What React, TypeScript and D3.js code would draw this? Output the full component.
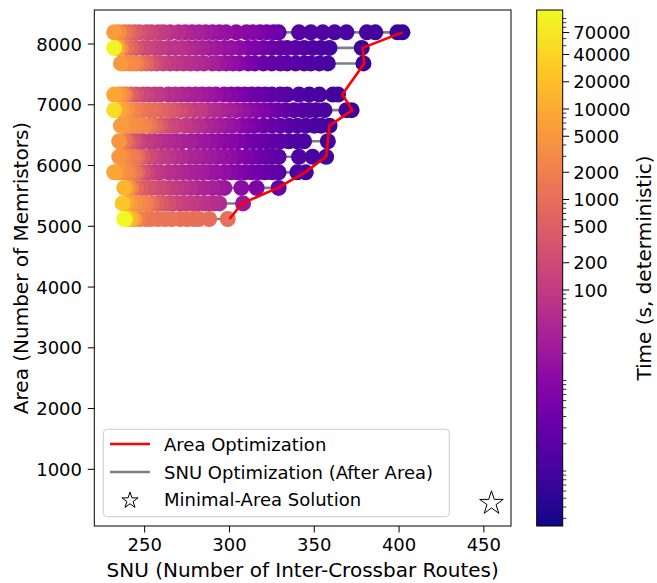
import React from "react";
import * as d3 from "d3";

// ---------- data ----------
const rowAreas = [8192, 7936, 7680, 7168, 6912, 6656, 6400, 6144, 5888, 5632, 5376, 5120];

const snu8192 = [232,235,238,241,244,247,251,254,258,261,265,270,274,278,282,286,290,294,298,304,310,314,318,322,326,329,341,348,355,362,369,381,386,399,402];
const time8192 = [6000,3150,1430,750,440,300,200,155,120,90,70,54,41,32,28,24,19,16.5,14.5,11,9.8,8.6,6.6,5,3.9,3,1.75,1.6,1.5,1.4,1.3,1.05,0.95,0.75,0.7];

const snu7936 = [232,234,236,239,242,245,249,252,256,259,264,268,272,276,280,284,288,292,297,301,306,311,315,320,325,330,334,339,344,349,354,359,378];
const time7936 = [100000,9000,3150,1100,570,340,200,155,120,104,80,70,61,47,36,32,24,21,16.5,14.5,11,7.5,5.8,4.4,3.4,2.6,2.3,2.0,1.5,1.35,1.2,1.05,0.8];

const snu7680 = [236,238,241,243,245,248,251,254,257,261,265,269,273,277,281,285,290,294,298,302,306,311,315,320,325,330,334,339,344,348,353,358,379];
const time7680 = [5300,3600,3150,2750,2100,1100,650,340,200,135,104,80,61,54,47,36,28,21,16.5,12.7,8.6,5.8,3.9,3,2.6,2.3,2.0,1.75,1.5,1.35,1.2,1.05,0.8];

const snu7168 = [232,235,237,239,242,245,249,252,256,259,264,268,272,276,280,284,288,292,297,301,305,309,313,317,321,325,330,334,341,347,353,361,364];
const time7168 = [9000,5300,3150,1430,500,295,175,135,104,80,61,47,41,32,28,24,19,14.5,11,8.6,6.6,5,3.9,3.4,2.6,2.3,2.0,1.75,1.35,1.2,1.05,0.9,0.8];

const snu6912 = [232,235,237,240,243,246,249,253,256,260,264,267,271,275,279,283,287,291,295,300,304,308,312,316,320,324,328,333,338,343,347,351,356,369,372];
const time6912 = [50000,9000,6000,4100,2400,1630,1250,1100,850,650,440,340,230,155,120,90,61,47,36,28,21,16.5,11,8.6,6.6,4.4,3.4,2.6,2.0,1.75,1.5,1.35,1.2,0.9,0.8];

const snu6656 = [236,238,241,243,245,248,250,253,256,259,262,266,269,274,278,282,286,290,294,298,302,307,311,315,320,325,330,335,340,345,350,354,359];
const time6656 = [6000,4700,4100,3600,3150,2750,2400,1430,750,440,260,175,135,90,70,54,41,32,24,19,14.5,9.8,6.6,5,3.9,3,2.3,1.75,1.5,1.35,1.2,1.05,0.8];

const snu6400 = [235,238,240,243,246,249,253,256,260,264,268,272,277,281,285,289,293,297,301,305,310,314,318,322,326,330,335,340,344,358];
const time6400 = [4700,1430,650,340,175,120,90,70,54,47,36,32,28,21,19,14.5,12.7,9.8,8.6,6.6,5,3.9,3.4,2.6,2.3,2.0,1.5,1.35,1.2,0.9];

const snu6144 = [235,237,239,242,244,246,249,253,256,260,264,268,272,277,281,285,289,293,297,301,305,310,314,318,322,325,329,341,349,357];
const time6144 = [4700,3150,2400,1860,1430,850,385,200,135,104,80,61,47,36,32,24,21,16.5,14.5,11,8.6,6.6,5,3.9,3,2.6,2.3,1.35,1.2,0.9];

const snu5888 = [232,234,236,239,241,244,246,249,252,256,259,264,268,272,276,280,284,288,292,297,301,305,309,313,317,321,325,329,340,345];
const time5888 = [9000,5300,4100,3150,2400,1430,650,295,155,104,80,61,47,41,32,28,24,19,16.5,12.7,9.8,7.5,5.8,4.4,3.9,3,2.6,2.0,1.35,1.05];

const snu5632 = [238,240,242,245,248,251,254,258,261,265,269,273,277,281,285,290,294,297,307,316,329];
const time5632 = [15000,5300,2400,850,440,340,260,200,155,120,90,70,54,41,36,28,21,19,11,6.6,3.4];

const snu5376 = [237,239,242,244,246,249,251,254,257,260,264,267,271,274,278,281,285,288,291,294,308];
const time5376 = [25000,9000,5300,4100,3150,2400,1860,960,570,385,260,175,135,120,104,80,70,61,54,47,19];

const snu5120 = [238,239,242,244,247,251,254,258,262,266,271,275,279,282,288,299];
const time5120 = [124000,33000,15000,5300,1860,1430,1430,1250,1250,1250,1100,1100,1100,1100,960,960];

const rowSnu = [snu8192, snu7936, snu7680, snu7168, snu6912, snu6656, snu6400, snu6144, snu5888, snu5632, snu5376, snu5120];
const rowTime = [time8192, time7936, time7680, time7168, time6912, time6656, time6400, time6144, time5888, time5632, time5376, time5120];

// Area optimization path (red line)
const areaOptSnu = [402, 378.5, 379.5, 366.5, 372.5, 359, 358, 357, 344.5, 328.5, 307.5, 300];
const areaOptArea = rowAreas;

// Minimal-area solution
const minimalSnu = 454.5;
const minimalArea = 442;

const xTicks = [250, 300, 350, 400, 450];
const yTicks = [1000, 2000, 3000, 4000, 5000, 6000, 7000, 8000];
const cbTicks = [100, 200, 500, 1000, 2000, 5000, 10000, 20000, 40000, 70000];
const timeDomain = [0.2467, 124200];

const legendLabels = ["Area Optimization", "SNU Optimization (After Area)", "Minimal-Area Solution"];

// ---------- layout ----------
const W = 657, H = 583;
const L = 94.3, R = 511, T = 10, B = 526;
const CBX0 = 536.7, CBX1 = 562.7;
const FONT = "DejaVu Sans";

function starPath(cx: number, cy: number, r: number) {
  const pts: string[] = [];
  for (let i = 0; i < 10; i++) {
    const rr = i % 2 === 0 ? r : r * 0.381966;
    const a = -Math.PI / 2 + (i * Math.PI) / 5;
    pts.push(`${(cx + rr * Math.cos(a)).toFixed(2)},${(cy + rr * Math.sin(a)).toFixed(2)}`);
  }
  return "M" + pts.join("L") + "Z";
}

export default function App() {
  const x = d3.scaleLinear().domain([220.3, 466]).range([L, R]);
  const y = d3.scaleLinear().domain([67, 8560]).range([B, T]);
  const norm = d3.scaleLog().domain(timeDomain).range([0, 1]).clamp(true);
  const color = (t: number) => d3.interpolatePlasma(norm(t));
  const cbY = d3.scaleLog().domain(timeDomain).range([B, T]);

  const line = d3.line<[number, number]>().x((d) => x(d[0])).y((d) => y(d[1]));

  const grayPaths = rowSnu.map((s, i) => line(s.map((v) => [v, rowAreas[i]] as [number, number])) || "");
  const redPath = line(areaOptSnu.map((v, i) => [v, areaOptArea[i]] as [number, number])) || "";

  const circles: JSX.Element[] = [];
  rowSnu.forEach((s, i) => {
    for (let j = s.length - 1; j >= 0; j--) {
      circles.push(
        <circle key={`c${i}-${j}`} cx={x(s[j])} cy={y(rowAreas[i])} r={8} fill={color(rowTime[i][j])} />
      );
    }
  });

  // colorbar
  const stops = d3.range(0, 101).map((k) => (
    <stop key={k} offset={`${k}%`} stopColor={d3.interpolatePlasma(k / 100)} />
  ));
  const minorTicks: number[] = [];
  for (let e = -1; e <= 5; e++) {
    for (let k = 1; k <= 9; k++) {
      const v = k * Math.pow(10, e);
      if (v >= timeDomain[0] && v <= timeDomain[1] && !cbTicks.includes(v)) minorTicks.push(v);
    }
  }

  const legendY = [444, 472, 499.5];

  return (
    <svg width={W} height={H} style={{ position: "absolute", left: 0, top: 0, background: "#fff" }} fontFamily={FONT}>
      <defs>
        <linearGradient id="cbgrad" x1="0" y1="1" x2="0" y2="0">
          {stops}
        </linearGradient>
      </defs>
      <rect x={0} y={0} width={W} height={H} fill="#fff" />

      {/* gray SNU optimization lines */}
      {grayPaths.map((d, i) => (
        <path key={`g${i}`} d={d} fill="none" stroke="#808080" strokeWidth={2.6} />
      ))}
      {circles}
      {/* red area optimization */}
      <path d={redPath} fill="none" stroke="#ff0000" strokeWidth={2.6} strokeLinejoin="round" />
      {/* minimal area star */}
      <path d={starPath(x(minimalSnu), y(minimalArea), 12.4)} fill="#fff" stroke="#000" strokeWidth={1} />

      {/* frame */}
      <rect x={L} y={T} width={R - L} height={B - T} fill="none" stroke="#000" strokeWidth={1} />

      {/* x axis */}
      {xTicks.map((t) => (
        <g key={`x${t}`}>
          <line x1={x(t)} x2={x(t)} y1={B} y2={B + 6.5} stroke="#000" strokeWidth={1} />
          <text x={x(t)} y={551} fontSize={18} textAnchor="middle" fill="#000">{t}</text>
        </g>
      ))}
      <text x={(L + R) / 2} y={576.7} fontSize={20} textAnchor="middle" fill="#000">SNU (Number of Inter-Crossbar Routes)</text>

      {/* y axis */}
      {yTicks.map((t) => (
        <g key={`y${t}`}>
          <line x1={L - 6.5} x2={L} y1={y(t)} y2={y(t)} stroke="#000" strokeWidth={1} />
          <text x={82} y={y(t) + 6.5} fontSize={18} textAnchor="end" fill="#000">{t}</text>
        </g>
      ))}
      <text transform={`translate(28,${(T + B) / 2}) rotate(-90)`} fontSize={20} textAnchor="middle" fill="#000">Area (Number of Memristors)</text>

      {/* legend */}
      <rect x={103.3} y={429.3} width={346} height={87.4} rx={4} fill="#fff" fillOpacity={0.8} stroke="#cccccc" strokeWidth={1} />
      <line x1={110} x2={150} y1={legendY[0]} y2={legendY[0]} stroke="#ff0000" strokeWidth={2.6} />
      <line x1={110} x2={150} y1={legendY[1]} y2={legendY[1]} stroke="#808080" strokeWidth={2.6} />
      <path d={starPath(130, legendY[2] + 1, 8.5)} fill="#fff" stroke="#000" strokeWidth={1} />
      {legendLabels.map((lab, i) => (
        <text key={lab} x={164} y={legendY[i] + 6.7} fontSize={18} fill="#000">{lab}</text>
      ))}

      {/* colorbar */}
      <rect x={CBX0} y={T} width={CBX1 - CBX0} height={B - T} fill="url(#cbgrad)" />
      <rect x={CBX0} y={T} width={CBX1 - CBX0} height={B - T} fill="none" stroke="#000" strokeWidth={1} />
      {minorTicks.map((v) => (
        <line key={`m${v}`} x1={CBX1} x2={CBX1 + 3.6} y1={cbY(v)} y2={cbY(v)} stroke="#000" strokeWidth={0.8} />
      ))}
      {cbTicks.map((v) => (
        <g key={`cb${v}`}>
          <line x1={CBX1} x2={CBX1 + 6.5} y1={cbY(v)} y2={cbY(v)} stroke="#000" strokeWidth={1} />
          <text x={573.3} y={cbY(v) + 6.5} fontSize={18} fill="#000">{v}</text>
        </g>
      ))}
      <text transform={`translate(651,${(T + B) / 2}) rotate(-90)`} fontSize={20} textAnchor="middle" fill="#000">Time (s, deterministic)</text>
    </svg>
  );
}
